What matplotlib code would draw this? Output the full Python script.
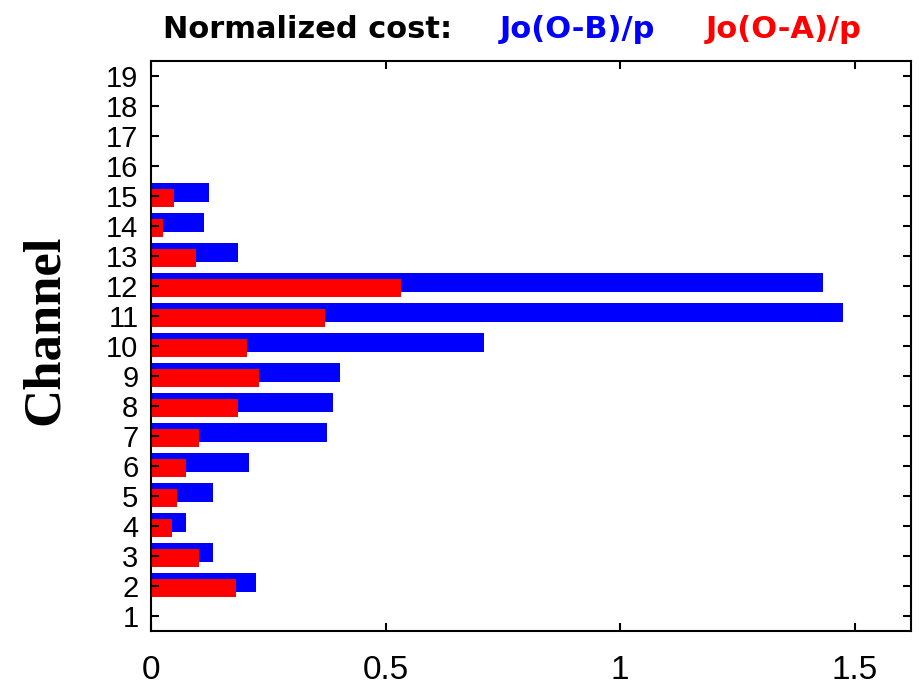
import numpy as np
import matplotlib
matplotlib.use("Agg")
import matplotlib.pyplot as plt

# channel numbers and normalized cost values
channels = np.arange(1, 20)
jo_omb = [0, 0.224, 0.133, 0.075, 0.133, 0.210, 0.375, 0.389, 0.403, 0.709,
          1.475, 1.433, 0.186, 0.114, 0.123, 0, 0, 0, 0]
jo_oma = [0, 0.181, 0.103, 0.045, 0.055, 0.075, 0.103, 0.185, 0.230, 0.205,
          0.370, 0.534, 0.095, 0.026, 0.050, 0, 0, 0, 0]
x_ticks = [0, 0.5, 1, 1.5]
x_ticklabels = ["0", "0.5", "1", "1.5"]

plt.rcParams['font.family'] = ['Liberation Sans', 'DejaVu Sans']

fig = plt.figure(figsize=(9.2, 6.91), dpi=100)
ax = fig.add_axes([0.1641, 0.0868, 0.8261, 0.8249])

ax.barh(channels + 0.12, jo_omb, height=0.62, color='#0000ff', linewidth=0)
ax.barh(channels - 0.08, jo_oma, height=0.6, color='#ff0000', linewidth=0)

ax.set_xlim(0, 1.62)
ax.set_ylim(0.5, 19.5)
ax.set_yticks(channels)
ax.set_yticklabels([str(c) for c in channels], fontsize=21)
ax.set_xticks(x_ticks)
ax.set_xticklabels(x_ticklabels, fontsize=24)

ax.tick_params(direction='in', length=6, width=1.5, top=True, right=True,
               color='black')
ax.tick_params(axis='y', pad=9)
ax.tick_params(axis='x', pad=17)
for s in ax.spines.values():
    s.set_linewidth(1.5)

fig.text(45 / 920, 1 - 330 / 691, "Channel", rotation=90, ha='center',
         va='center', fontsize=38, fontweight='bold', family='Liberation Serif')

# title line: label plus the two series names in their colours
ty = 1 - 29 / 691
title_font = dict(fontsize=22, fontweight='bold', family='DejaVu Sans',
                  ha='left', va='center')
fig.text(163 / 920, ty, "Normalized cost:", color='black', **title_font)
fig.text(500 / 920, ty, "Jo(O-B)/p", color='#0000ff', **title_font)
fig.text(706 / 920, ty, "Jo(O-A)/p", color='#ff0000', **title_font)

fig.savefig("out.png", dpi=100)
plt.close(fig)
